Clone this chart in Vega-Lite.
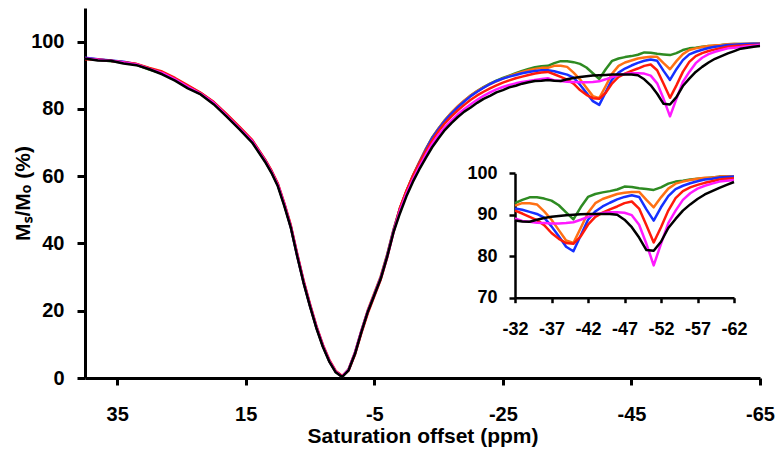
{
"$schema": "https://vega.github.io/schema/vega-lite/v6.json",
"width": 675, "height": 370,
"autosize": {"type": "none"},
"padding": {"left": 85, "top": 8, "right": 23, "bottom": 80},
"background": "white",
"config": {"view": {"stroke": null}, "axis": {"grid": false, "domainColor": "black", "tickColor": "black", "labelColor": "black", "titleColor": "black", "labelFont": "Liberation Sans", "titleFont": "Liberation Sans", "labelFontWeight": "bold", "titleFontWeight": "bold", "labelFlush": false}},
"datasets": {"z": [
{"x":40,"s":"1","y":95.0},{"x":38,"s":"1","y":94.6},{"x":36,"s":"1","y":94.2},{"x":34,"s":"1","y":93.8},{"x":32,"s":"1","y":93.1},{"x":30,"s":"1","y":91.7},{"x":28,"s":"1","y":90.6},{"x":26,"s":"1","y":88.7},{"x":24,"s":"1","y":86.5},{"x":22,"s":"1","y":84.4},{"x":20,"s":"1","y":81.7},{"x":18,"s":"1","y":78.0},{"x":16,"s":"1","y":74.2},{"x":14,"s":"1","y":70.3},{"x":12,"s":"1","y":64.5},{"x":11,"s":"1","y":61.2},{"x":10,"s":"1","y":57.3},{"x":9,"s":"1","y":51.5},{"x":8,"s":"1","y":45.0},{"x":7,"s":"1","y":36.5},{"x":6,"s":"1","y":28.5},{"x":5,"s":"1","y":21.5},{"x":4,"s":"1","y":15.0},{"x":3,"s":"1","y":9.5},{"x":2,"s":"1","y":5.0},{"x":1,"s":"1","y":1.8},{"x":0,"s":"1","y":0.4},{"x":-1,"s":"1","y":2.5},{"x":-2,"s":"1","y":7.5},{"x":-3,"s":"1","y":14.0},{"x":-4,"s":"1","y":20.0},{"x":-5,"s":"1","y":25.0},{"x":-6,"s":"1","y":30.0},{"x":-7,"s":"1","y":36.5},{"x":-8,"s":"1","y":44.0},
{"x":-9,"s":"1","y":50.5},{"x":-10,"s":"1","y":55.5},{"x":-11,"s":"1","y":60.0},{"x":-12,"s":"1","y":64.0},{"x":-13,"s":"1","y":68.0},{"x":-14,"s":"1","y":71.5},{"x":-15,"s":"1","y":74.2},{"x":-16,"s":"1","y":76.7},{"x":-17,"s":"1","y":78.8},{"x":-18,"s":"1","y":80.7},{"x":-19,"s":"1","y":82.4},{"x":-20,"s":"1","y":84.0},{"x":-21,"s":"1","y":85.3},{"x":-22,"s":"1","y":86.5},{"x":-23,"s":"1","y":87.5},{"x":-24,"s":"1","y":88.4},{"x":-25,"s":"1","y":89.2},{"x":-26,"s":"1","y":89.9},{"x":-27,"s":"1","y":90.6},{"x":-28,"s":"1","y":91.3},{"x":-29,"s":"1","y":91.9},{"x":-30,"s":"1","y":92.4},{"x":-31,"s":"1","y":92.7},
{"x":-32,"s":"1","y":92.8},{"x":-33,"s":"1","y":93.6},{"x":-34,"s":"1","y":94.2},{"x":-35,"s":"1","y":94.2},{"x":-36,"s":"1","y":93.9},{"x":-37,"s":"1","y":93.4},{"x":-38,"s":"1","y":92.3},{"x":-39,"s":"1","y":90.6},{"x":-40,"s":"1","y":88.9},{"x":-41,"s":"1","y":91.8},{"x":-42,"s":"1","y":94.3},{"x":-43,"s":"1","y":95.0},{"x":-44,"s":"1","y":95.4},{"x":-45,"s":"1","y":95.7},{"x":-46,"s":"1","y":96.1},{"x":-47,"s":"1","y":96.8},{"x":-48,"s":"1","y":96.7},{"x":-49,"s":"1","y":96.4},{"x":-50,"s":"1","y":96.2},{"x":-51,"s":"1","y":96.0},{"x":-52,"s":"1","y":96.6},{"x":-53,"s":"1","y":97.5},{"x":-54,"s":"1","y":98.0},{"x":-55,"s":"1","y":98.2},{"x":-56,"s":"1","y":98.5},{"x":-57,"s":"1","y":98.7},{"x":-58,"s":"1","y":98.8},{"x":-59,"s":"1","y":99.0},{"x":-60,"s":"1","y":99.2},{"x":-61,"s":"1","y":99.3},{"x":-62,"s":"1","y":99.3},{"x":-63,"s":"1","y":99.3},{"x":-64,"s":"1","y":99.4},{"x":-65,"s":"1","y":99.4},

{"x":40,"s":"2","y":95.1},{"x":38,"s":"2","y":94.7},{"x":36,"s":"2","y":94.3},{"x":34,"s":"2","y":93.9},{"x":32,"s":"2","y":93.2},{"x":30,"s":"2","y":91.9},{"x":28,"s":"2","y":90.7},{"x":26,"s":"2","y":88.9},{"x":24,"s":"2","y":86.7},{"x":22,"s":"2","y":84.6},{"x":20,"s":"2","y":81.9},{"x":18,"s":"2","y":78.2},{"x":16,"s":"2","y":74.4},{"x":14,"s":"2","y":70.5},{"x":12,"s":"2","y":64.7},{"x":11,"s":"2","y":61.4},{"x":10,"s":"2","y":57.5},{"x":9,"s":"2","y":51.7},{"x":8,"s":"2","y":45.2},{"x":7,"s":"2","y":36.7},{"x":6,"s":"2","y":28.7},{"x":5,"s":"2","y":21.6},{"x":4,"s":"2","y":15.1},{"x":3,"s":"2","y":9.6},{"x":2,"s":"2","y":5.1},{"x":1,"s":"2","y":1.9},{"x":0,"s":"2","y":0.5},{"x":-1,"s":"2","y":2.6},{"x":-2,"s":"2","y":7.6},{"x":-3,"s":"2","y":14.1},{"x":-4,"s":"2","y":20.2},{"x":-5,"s":"2","y":25.2},{"x":-6,"s":"2","y":30.2},{"x":-7,"s":"2","y":36.7},{"x":-8,"s":"2","y":44.2},
{"x":-9,"s":"2","y":50.5},{"x":-10,"s":"2","y":55.6},{"x":-11,"s":"2","y":60.2},{"x":-12,"s":"2","y":64.2},{"x":-13,"s":"2","y":68.0},{"x":-14,"s":"2","y":71.4},{"x":-15,"s":"2","y":74.2},{"x":-16,"s":"2","y":76.7},{"x":-17,"s":"2","y":78.9},{"x":-18,"s":"2","y":80.8},{"x":-19,"s":"2","y":82.5},{"x":-20,"s":"2","y":84.0},{"x":-21,"s":"2","y":85.3},{"x":-22,"s":"2","y":86.4},{"x":-23,"s":"2","y":87.4},{"x":-24,"s":"2","y":88.2},{"x":-25,"s":"2","y":89.0},{"x":-26,"s":"2","y":89.7},{"x":-27,"s":"2","y":90.4},{"x":-28,"s":"2","y":91.0},{"x":-29,"s":"2","y":91.5},{"x":-30,"s":"2","y":91.9},{"x":-31,"s":"2","y":92.2},
{"x":-32,"s":"2","y":92.2},{"x":-33,"s":"2","y":92.8},{"x":-34,"s":"2","y":92.8},{"x":-35,"s":"2","y":92.5},{"x":-36,"s":"2","y":90.8},{"x":-37,"s":"2","y":88.8},{"x":-38,"s":"2","y":86.3},{"x":-39,"s":"2","y":83.8},{"x":-40,"s":"2","y":83.2},{"x":-41,"s":"2","y":86.8},{"x":-42,"s":"2","y":90.5},{"x":-43,"s":"2","y":92.8},{"x":-44,"s":"2","y":93.8},{"x":-45,"s":"2","y":94.4},{"x":-46,"s":"2","y":95.0},{"x":-47,"s":"2","y":95.3},{"x":-48,"s":"2","y":95.5},{"x":-49,"s":"2","y":95.5},{"x":-50,"s":"2","y":93.6},{"x":-51,"s":"2","y":91.8},{"x":-52,"s":"2","y":94.2},{"x":-53,"s":"2","y":96.3},{"x":-54,"s":"2","y":97.5},{"x":-55,"s":"2","y":98.0},{"x":-56,"s":"2","y":98.4},{"x":-57,"s":"2","y":98.7},{"x":-58,"s":"2","y":98.9},{"x":-59,"s":"2","y":99.0},{"x":-60,"s":"2","y":99.2},{"x":-61,"s":"2","y":99.3},{"x":-62,"s":"2","y":99.3},{"x":-63,"s":"2","y":99.4},{"x":-64,"s":"2","y":99.4},{"x":-65,"s":"2","y":99.5},

{"x":40,"s":"3","y":95.2},{"x":38,"s":"3","y":94.8},{"x":36,"s":"3","y":94.4},{"x":34,"s":"3","y":94.0},{"x":32,"s":"3","y":93.3},{"x":30,"s":"3","y":92.0},{"x":28,"s":"3","y":90.8},{"x":26,"s":"3","y":89.0},{"x":24,"s":"3","y":86.8},{"x":22,"s":"3","y":84.7},{"x":20,"s":"3","y":82.0},{"x":18,"s":"3","y":78.4},{"x":16,"s":"3","y":74.6},{"x":14,"s":"3","y":70.6},{"x":12,"s":"3","y":64.9},{"x":11,"s":"3","y":61.5},{"x":10,"s":"3","y":57.5},{"x":9,"s":"3","y":51.7},{"x":8,"s":"3","y":45.1},{"x":7,"s":"3","y":36.6},{"x":6,"s":"3","y":28.6},{"x":5,"s":"3","y":21.6},{"x":4,"s":"3","y":15.1},{"x":3,"s":"3","y":9.6},{"x":2,"s":"3","y":5.1},{"x":1,"s":"3","y":1.9},{"x":0,"s":"3","y":0.5},{"x":-1,"s":"3","y":2.4},{"x":-2,"s":"3","y":7.3},{"x":-3,"s":"3","y":13.8},{"x":-4,"s":"3","y":19.8},{"x":-5,"s":"3","y":24.8},{"x":-6,"s":"3","y":29.8},{"x":-7,"s":"3","y":36.3},{"x":-8,"s":"3","y":43.9},
{"x":-9,"s":"3","y":50.4},{"x":-10,"s":"3","y":55.4},{"x":-11,"s":"3","y":60.0},{"x":-12,"s":"3","y":64.0},{"x":-13,"s":"3","y":67.8},{"x":-14,"s":"3","y":71.3},{"x":-15,"s":"3","y":74.0},{"x":-16,"s":"3","y":76.5},{"x":-17,"s":"3","y":78.6},{"x":-18,"s":"3","y":80.5},{"x":-19,"s":"3","y":82.2},{"x":-20,"s":"3","y":83.8},{"x":-21,"s":"3","y":85.1},{"x":-22,"s":"3","y":86.3},{"x":-23,"s":"3","y":87.4},{"x":-24,"s":"3","y":88.3},{"x":-25,"s":"3","y":89.0},{"x":-26,"s":"3","y":89.6},{"x":-27,"s":"3","y":90.1},{"x":-28,"s":"3","y":90.6},{"x":-29,"s":"3","y":91.0},{"x":-30,"s":"3","y":91.3},{"x":-31,"s":"3","y":91.5},
{"x":-32,"s":"3","y":91.5},{"x":-33,"s":"3","y":91.2},{"x":-34,"s":"3","y":90.7},{"x":-35,"s":"3","y":90.2},{"x":-36,"s":"3","y":89.3},{"x":-37,"s":"3","y":87.2},{"x":-38,"s":"3","y":84.8},{"x":-39,"s":"3","y":82.3},{"x":-40,"s":"3","y":81.2},{"x":-41,"s":"3","y":85.0},{"x":-42,"s":"3","y":88.8},{"x":-43,"s":"3","y":90.8},{"x":-44,"s":"3","y":92.0},{"x":-45,"s":"3","y":92.9},{"x":-46,"s":"3","y":93.7},{"x":-47,"s":"3","y":94.3},{"x":-48,"s":"3","y":94.7},{"x":-49,"s":"3","y":94.3},{"x":-50,"s":"3","y":91.3},{"x":-51,"s":"3","y":88.6},{"x":-52,"s":"3","y":91.8},{"x":-53,"s":"3","y":94.5},{"x":-54,"s":"3","y":96.2},{"x":-55,"s":"3","y":97.0},{"x":-56,"s":"3","y":97.6},{"x":-57,"s":"3","y":98.1},{"x":-58,"s":"3","y":98.5},{"x":-59,"s":"3","y":98.7},{"x":-60,"s":"3","y":99.0},{"x":-61,"s":"3","y":99.1},{"x":-62,"s":"3","y":99.2},{"x":-63,"s":"3","y":99.3},{"x":-64,"s":"3","y":99.4},{"x":-65,"s":"3","y":99.4},

{"x":40,"s":"4","y":94.8},{"x":38,"s":"4","y":94.7},{"x":36,"s":"4","y":94.3},{"x":34,"s":"4","y":93.9},{"x":32,"s":"4","y":93.4},{"x":30,"s":"4","y":92.2},{"x":28,"s":"4","y":91.1},{"x":26,"s":"4","y":89.2},{"x":24,"s":"4","y":87.0},{"x":22,"s":"4","y":84.8},{"x":20,"s":"4","y":82.1},{"x":18,"s":"4","y":78.5},{"x":16,"s":"4","y":74.7},{"x":14,"s":"4","y":70.8},{"x":12,"s":"4","y":65.0},{"x":11,"s":"4","y":61.7},{"x":10,"s":"4","y":57.8},{"x":9,"s":"4","y":52.0},{"x":8,"s":"4","y":45.5},{"x":7,"s":"4","y":37.0},{"x":6,"s":"4","y":29.0},{"x":5,"s":"4","y":22.0},{"x":4,"s":"4","y":15.4},{"x":3,"s":"4","y":9.9},{"x":2,"s":"4","y":5.4},{"x":1,"s":"4","y":2.1},{"x":0,"s":"4","y":0.6},{"x":-1,"s":"4","y":2.2},{"x":-2,"s":"4","y":7.0},{"x":-3,"s":"4","y":13.4},{"x":-4,"s":"4","y":19.3},{"x":-5,"s":"4","y":24.3},{"x":-6,"s":"4","y":29.3},{"x":-7,"s":"4","y":35.8},{"x":-8,"s":"4","y":43.5},
{"x":-9,"s":"4","y":50.6},{"x":-10,"s":"4","y":55.6},{"x":-11,"s":"4","y":60.0},{"x":-12,"s":"4","y":63.8},{"x":-13,"s":"4","y":67.4},{"x":-14,"s":"4","y":70.6},{"x":-15,"s":"4","y":73.4},{"x":-16,"s":"4","y":75.8},{"x":-17,"s":"4","y":77.8},{"x":-18,"s":"4","y":79.6},{"x":-19,"s":"4","y":81.2},{"x":-20,"s":"4","y":82.7},{"x":-21,"s":"4","y":84.0},{"x":-22,"s":"4","y":85.1},{"x":-23,"s":"4","y":86.1},{"x":-24,"s":"4","y":87.0},{"x":-25,"s":"4","y":87.8},{"x":-26,"s":"4","y":88.5},{"x":-27,"s":"4","y":89.1},{"x":-28,"s":"4","y":89.6},{"x":-29,"s":"4","y":90.1},{"x":-30,"s":"4","y":90.5},{"x":-31,"s":"4","y":90.8},
{"x":-32,"s":"4","y":91.0},{"x":-33,"s":"4","y":90.3},{"x":-34,"s":"4","y":89.5},{"x":-35,"s":"4","y":88.7},{"x":-36,"s":"4","y":87.5},{"x":-37,"s":"4","y":85.6},{"x":-38,"s":"4","y":84.2},{"x":-39,"s":"4","y":83.2},{"x":-40,"s":"4","y":83.0},{"x":-41,"s":"4","y":84.8},{"x":-42,"s":"4","y":87.6},{"x":-43,"s":"4","y":89.5},{"x":-44,"s":"4","y":90.5},{"x":-45,"s":"4","y":91.3},{"x":-46,"s":"4","y":92.0},{"x":-47,"s":"4","y":92.8},{"x":-48,"s":"4","y":93.2},{"x":-49,"s":"4","y":91.5},{"x":-50,"s":"4","y":87.5},{"x":-51,"s":"4","y":83.3},{"x":-52,"s":"4","y":87.0},{"x":-53,"s":"4","y":91.0},{"x":-54,"s":"4","y":94.0},{"x":-55,"s":"4","y":95.7},{"x":-56,"s":"4","y":96.6},{"x":-57,"s":"4","y":97.2},{"x":-58,"s":"4","y":97.7},{"x":-59,"s":"4","y":98.1},{"x":-60,"s":"4","y":98.5},{"x":-61,"s":"4","y":98.7},{"x":-62,"s":"4","y":98.8},{"x":-63,"s":"4","y":98.9},{"x":-64,"s":"4","y":99.0},{"x":-65,"s":"4","y":99.1},

{"x":40,"s":"5","y":95.1},{"x":38,"s":"5","y":94.6},{"x":36,"s":"5","y":94.3},{"x":34,"s":"5","y":93.8},{"x":32,"s":"5","y":93.2},{"x":30,"s":"5","y":91.9},{"x":28,"s":"5","y":90.7},{"x":26,"s":"5","y":88.8},{"x":24,"s":"5","y":86.6},{"x":22,"s":"5","y":84.5},{"x":20,"s":"5","y":81.8},{"x":18,"s":"5","y":78.1},{"x":16,"s":"5","y":74.3},{"x":14,"s":"5","y":70.4},{"x":12,"s":"5","y":64.6},{"x":11,"s":"5","y":61.3},{"x":10,"s":"5","y":57.4},{"x":9,"s":"5","y":51.6},{"x":8,"s":"5","y":45.1},{"x":7,"s":"5","y":36.6},{"x":6,"s":"5","y":28.6},{"x":5,"s":"5","y":21.6},{"x":4,"s":"5","y":15.1},{"x":3,"s":"5","y":9.6},{"x":2,"s":"5","y":5.1},{"x":1,"s":"5","y":1.9},{"x":0,"s":"5","y":0.4},{"x":-1,"s":"5","y":2.5},{"x":-2,"s":"5","y":7.5},{"x":-3,"s":"5","y":14.0},{"x":-4,"s":"5","y":19.9},{"x":-5,"s":"5","y":24.8},{"x":-6,"s":"5","y":29.7},{"x":-7,"s":"5","y":36.0},{"x":-8,"s":"5","y":43.5},
{"x":-9,"s":"5","y":49.8},{"x":-10,"s":"5","y":54.8},{"x":-11,"s":"5","y":59.0},{"x":-12,"s":"5","y":62.8},{"x":-13,"s":"5","y":66.3},{"x":-14,"s":"5","y":69.6},{"x":-15,"s":"5","y":72.3},{"x":-16,"s":"5","y":74.6},{"x":-17,"s":"5","y":76.6},{"x":-18,"s":"5","y":78.4},{"x":-19,"s":"5","y":80.0},{"x":-20,"s":"5","y":81.4},{"x":-21,"s":"5","y":82.7},{"x":-22,"s":"5","y":83.9},{"x":-23,"s":"5","y":84.9},{"x":-24,"s":"5","y":85.8},{"x":-25,"s":"5","y":86.5},{"x":-26,"s":"5","y":87.1},{"x":-27,"s":"5","y":87.6},{"x":-28,"s":"5","y":88.0},{"x":-29,"s":"5","y":88.3},{"x":-30,"s":"5","y":88.6},{"x":-31,"s":"5","y":88.9},
{"x":-32,"s":"5","y":89.1},{"x":-33,"s":"5","y":88.5},{"x":-34,"s":"5","y":88.3},{"x":-35,"s":"5","y":88.1},{"x":-36,"s":"5","y":88.0},{"x":-37,"s":"5","y":87.9},{"x":-38,"s":"5","y":87.9},{"x":-39,"s":"5","y":88.0},{"x":-40,"s":"5","y":88.2},{"x":-41,"s":"5","y":88.8},{"x":-42,"s":"5","y":89.5},{"x":-43,"s":"5","y":90.1},{"x":-44,"s":"5","y":90.4},{"x":-45,"s":"5","y":90.6},{"x":-46,"s":"5","y":90.6},{"x":-47,"s":"5","y":90.5},{"x":-48,"s":"5","y":89.9},{"x":-49,"s":"5","y":87.6},{"x":-50,"s":"5","y":83.0},{"x":-51,"s":"5","y":77.8},{"x":-52,"s":"5","y":83.0},{"x":-53,"s":"5","y":88.0},{"x":-54,"s":"5","y":91.0},{"x":-55,"s":"5","y":93.6},{"x":-56,"s":"5","y":95.2},{"x":-57,"s":"5","y":96.3},{"x":-58,"s":"5","y":97.0},{"x":-59,"s":"5","y":97.5},{"x":-60,"s":"5","y":98.0},{"x":-61,"s":"5","y":98.2},{"x":-62,"s":"5","y":98.4},{"x":-63,"s":"5","y":98.6},{"x":-64,"s":"5","y":98.8},{"x":-65,"s":"5","y":99.0},

{"x":40,"s":"6","y":95.0},{"x":38,"s":"6","y":94.4},{"x":36,"s":"6","y":94.3},{"x":34,"s":"6","y":93.5},{"x":32,"s":"6","y":93.0},{"x":30,"s":"6","y":91.8},{"x":28,"s":"6","y":90.3},{"x":26,"s":"6","y":88.4},{"x":24,"s":"6","y":86.1},{"x":22,"s":"6","y":84.3},{"x":20,"s":"6","y":81.4},{"x":18,"s":"6","y":77.8},{"x":16,"s":"6","y":74.0},{"x":14,"s":"6","y":70.0},{"x":12,"s":"6","y":64.3},{"x":11,"s":"6","y":61.0},{"x":10,"s":"6","y":57.0},{"x":9,"s":"6","y":51.2},{"x":8,"s":"6","y":44.8},{"x":7,"s":"6","y":36.3},{"x":6,"s":"6","y":28.3},{"x":5,"s":"6","y":21.3},{"x":4,"s":"6","y":14.8},{"x":3,"s":"6","y":9.3},{"x":2,"s":"6","y":4.9},{"x":1,"s":"6","y":1.7},{"x":0,"s":"6","y":0.3},{"x":-1,"s":"6","y":2.3},{"x":-2,"s":"6","y":7.2},{"x":-3,"s":"6","y":13.7},{"x":-4,"s":"6","y":19.7},{"x":-5,"s":"6","y":24.6},{"x":-6,"s":"6","y":29.5},{"x":-7,"s":"6","y":36.0},{"x":-8,"s":"6","y":43.4},
{"x":-9,"s":"6","y":49.0},{"x":-10,"s":"6","y":54.0},{"x":-11,"s":"6","y":58.3},{"x":-12,"s":"6","y":62.0},{"x":-13,"s":"6","y":65.4},{"x":-14,"s":"6","y":68.6},{"x":-15,"s":"6","y":71.3},{"x":-16,"s":"6","y":73.8},{"x":-17,"s":"6","y":75.8},{"x":-18,"s":"6","y":77.6},{"x":-19,"s":"6","y":79.2},{"x":-20,"s":"6","y":80.4},{"x":-21,"s":"6","y":81.8},{"x":-22,"s":"6","y":83.0},{"x":-23,"s":"6","y":83.9},{"x":-24,"s":"6","y":84.9},{"x":-25,"s":"6","y":85.6},{"x":-26,"s":"6","y":86.4},{"x":-27,"s":"6","y":86.9},{"x":-28,"s":"6","y":87.5},{"x":-29,"s":"6","y":87.9},{"x":-30,"s":"6","y":88.3},{"x":-31,"s":"6","y":88.4},
{"x":-32,"s":"6","y":88.6},{"x":-33,"s":"6","y":88.4},{"x":-34,"s":"6","y":88.3},{"x":-35,"s":"6","y":88.8},{"x":-36,"s":"6","y":89.2},{"x":-37,"s":"6","y":89.5},{"x":-38,"s":"6","y":89.7},{"x":-39,"s":"6","y":89.9},{"x":-40,"s":"6","y":90.0},{"x":-41,"s":"6","y":90.1},{"x":-42,"s":"6","y":90.2},{"x":-43,"s":"6","y":90.2},{"x":-44,"s":"6","y":90.2},{"x":-45,"s":"6","y":90.2},{"x":-46,"s":"6","y":90.0},{"x":-47,"s":"6","y":88.8},{"x":-48,"s":"6","y":87.0},{"x":-49,"s":"6","y":84.5},{"x":-50,"s":"6","y":81.5},{"x":-51,"s":"6","y":81.3},{"x":-52,"s":"6","y":83.5},{"x":-53,"s":"6","y":86.8},{"x":-54,"s":"6","y":89.0},{"x":-55,"s":"6","y":91.0},{"x":-56,"s":"6","y":92.5},{"x":-57,"s":"6","y":93.8},{"x":-58,"s":"6","y":94.9},{"x":-59,"s":"6","y":95.7},{"x":-60,"s":"6","y":96.5},{"x":-61,"s":"6","y":97.2},{"x":-62,"s":"6","y":97.9},{"x":-63,"s":"6","y":98.2},{"x":-64,"s":"6","y":98.5},{"x":-65,"s":"6","y":98.7}
]},
"data": {"name": "z"},
"layer": [
 {"mark": {"type": "line", "strokeWidth": 2.5, "strokeJoin": "round"},
  "encoding": {
   "x": {"field": "x", "type": "quantitative", "scale": {"domain": [-65, 40], "reverse": true, "nice": false, "zero": false},
         "axis": {"values": [35, 15, -5, -25, -45, -65], "labelExpr": "toString(datum.value)", "title": "Saturation offset (ppm)", "domainWidth": 3, "tickWidth": 3, "tickSize": 7, "labelFontSize": 20, "labelBaseline": "alphabetic", "labelPadding": 35, "titleFontSize": 21, "titleBaseline": "alphabetic", "titleY": 64}},
   "y": {"field": "y", "type": "quantitative", "scale": {"domain": [0, 110], "nice": false, "zero": false},
         "axis": {"values": [0, 20, 40, 60, 80, 100], "title": "Mₛ/Mₒ (%)", "domainWidth": 3, "tickWidth": 3, "tickSize": 8, "labelFontSize": 20, "labelPadding": 13, "titleFontSize": 21, "titleX": -62, "titleBaseline": "middle"}},
   "color": {"field": "s", "type": "nominal", "scale": {"domain": ["1","2","3","4","5","6"], "range": ["#2E8B22","#FF7014","#1530FF","#FF1A0A","#FF1AFF","#000000"]}, "legend": null}
  }},
 {"transform": [{"filter": {"field": "x", "range": [-62, -32]}}],
  "mark": {"type": "line", "strokeWidth": 2.5, "strokeJoin": "round"},
  "encoding": {
   "x": {"field": "x", "type": "quantitative", "scale": {"domain": [-32, -62], "range": [430, 649], "nice": false, "zero": false},
         "axis": {"orient": "bottom", "offset": -80.3, "values": [-32, -37, -42, -47, -52, -57, -62], "labelExpr": "toString(datum.value)", "title": null, "domainWidth": 2.5, "tickWidth": 2.5, "tickSize": 5, "labelFontSize": 18, "labelBaseline": "alphabetic", "labelPadding": 32}},
   "y": {"field": "y", "type": "quantitative", "scale": {"domain": [70, 100], "range": [289.7, 165.3], "nice": false, "zero": false},
         "axis": {"orient": "left", "offset": -430, "values": [70, 80, 90, 100], "title": null, "domainWidth": 2.5, "tickWidth": 2.5, "tickSize": 6, "labelFontSize": 18, "labelPadding": 12}},
   "color": {"field": "s", "type": "nominal", "scale": {"domain": ["1","2","3","4","5","6"], "range": ["#2E8B22","#FF7014","#1530FF","#FF1A0A","#FF1AFF","#000000"]}, "legend": null}
  }}
],
"resolve": {"scale": {"x": "independent", "y": "independent"}, "axis": {"x": "independent", "y": "independent"}}
}
